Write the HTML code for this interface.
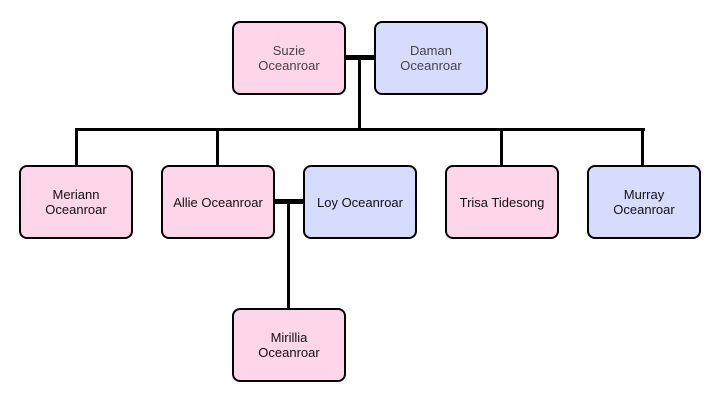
<!DOCTYPE html>
<html><head><style>
body{margin:0;background:#fff;width:720px;height:400px;position:relative;overflow:hidden;font-family:"Liberation Sans",sans-serif;}
.b{position:absolute;width:110px;height:70px;border:2px solid #000;border-radius:8px;display:flex;align-items:center;justify-content:center;text-align:center;font-size:13px;line-height:15px;color:#111;box-sizing:content-box;}
.f{background:#fed5e9}.m{background:#d6dcfe}
.l{position:absolute;background:#000}
</style></head><body>
<div class="l" style="left:345px;top:55px;width:30px;height:5px"></div>
<div class="l" style="left:358px;top:57px;width:3px;height:73px"></div>
<div class="l" style="left:75px;top:128px;width:570px;height:3px"></div>
<div class="l" style="left:75px;top:128px;width:3px;height:38px"></div>
<div class="l" style="left:216px;top:128px;width:3px;height:38px"></div>
<div class="l" style="left:500px;top:128px;width:3px;height:38px"></div>
<div class="l" style="left:641px;top:128px;width:3px;height:38px"></div>
<div class="l" style="left:274px;top:199px;width:30px;height:5px"></div>
<div class="l" style="left:287px;top:201px;width:3px;height:108px"></div>
<div class="b f" style="left:232px;top:21px;color:#444">Suzie<br>Oceanroar</div>
<div class="b m" style="left:374px;top:21px;color:#444">Daman<br>Oceanroar</div>
<div class="b f" style="left:19px;top:165px">Meriann<br>Oceanroar</div>
<div class="b f" style="left:161px;top:165px">Allie Oceanroar</div>
<div class="b m" style="left:303px;top:165px">Loy Oceanroar</div>
<div class="b f" style="left:445px;top:165px">Trisa Tidesong</div>
<div class="b m" style="left:587px;top:165px">Murray<br>Oceanroar</div>
<div class="b f" style="left:232px;top:308px">Mirillia<br>Oceanroar</div>
</body></html>
